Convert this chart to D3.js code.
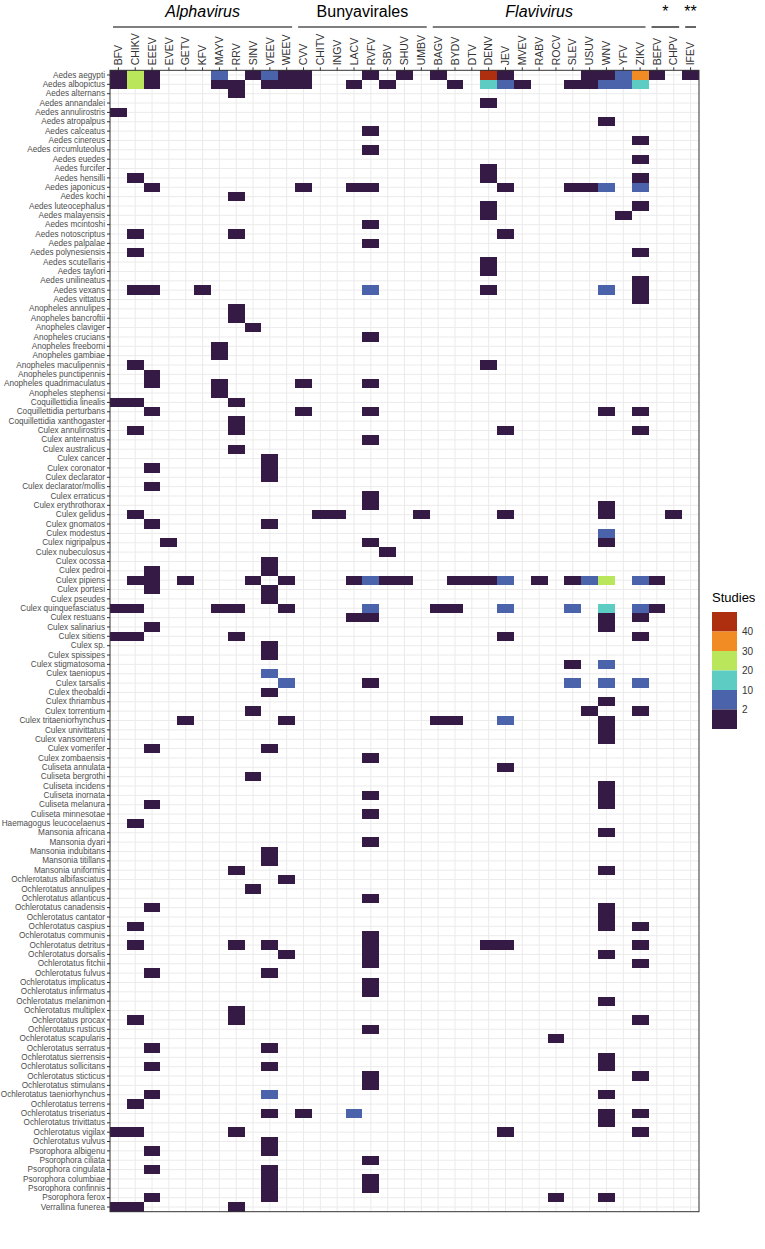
<!DOCTYPE html>
<html>
<head>
<meta charset="utf-8">
<script src="https://cdn.jsdelivr.net/npm/d3@7"></script>
<style>
  body { margin: 0; background: #fff; }
  text { font-family: "Liberation Sans", Arial, sans-serif; }
</style>
</head>
<body>
<svg id="chart" width="765" height="1249"></svg>
<script>
// virus columns, left to right
const viruses = ['BFV','CHIKV','EEEV','EVEV','GETV','KFV','MAYV','RRV','SINV','VEEV','WEEV',
  'CVV','CHITV','INGV','LACV','RVFV','SBV','SHUV','UMBV',
  'BAGV','BYDV','DTV','DENV','JEV','MVEV','RABV','ROCV','SLEV','USUV','WNV','YFV','ZIKV',
  'BEFV','CHPV','IFEV'];

// header groups
const groupNames = ['Alphavirus', 'Bunyavirales', 'Flavivirus', '*', '**'];
const groupSpans = [['BFV','WEEV'], ['CVV','UMBV'], ['BAGV','ZIKV'], ['BEFV','CHPV'], ['IFEV','IFEV']];
const groupItalic = [true, false, true, false, false];

// legend bins
const legendBreaks = [2, 10, 20, 30, 40];
const legendColors = ['#341a45', '#4b63aa', '#5dcdc3', '#b9e65b', '#f08c23', '#ae2f0f'];

// number of studies per species / virus (estimated from the bins)
const studies = [
  ['Aedes aegypti', [['BFV',1],['CHIKV',22],['EEEV',1],['MAYV',6],['SINV',1],['VEEV',6],['WEEV',1],['CVV',1],['RVFV',1],['SHUV',1],['BAGV',1],['DENV',45],['JEV',1],['USUV',1],['WNV',1],['YFV',6],['ZIKV',33],['BEFV',1],['IFEV',1]]],
  ['Aedes albopictus', [['BFV',1],['CHIKV',22],['EEEV',1],['MAYV',1],['RRV',1],['VEEV',1],['WEEV',1],['CVV',1],['LACV',1],['SBV',1],['BYDV',1],['DENV',15],['JEV',6],['MVEV',1],['SLEV',1],['USUV',1],['WNV',6],['YFV',6],['ZIKV',15]]],
  ['Aedes alternans', [['RRV',1]]],
  ['Aedes annandalei', [['DENV',1]]],
  ['Aedes annulirostris', [['BFV',1]]],
  ['Aedes atropalpus', [['WNV',1]]],
  ['Aedes calceatus', [['RVFV',1]]],
  ['Aedes cinereus', [['ZIKV',1]]],
  ['Aedes circumluteolus', [['RVFV',1]]],
  ['Aedes euedes', [['ZIKV',1]]],
  ['Aedes furcifer', [['DENV',1]]],
  ['Aedes hensilli', [['CHIKV',1],['DENV',1],['ZIKV',1]]],
  ['Aedes japonicus', [['EEEV',1],['CVV',1],['LACV',1],['RVFV',1],['JEV',1],['SLEV',1],['USUV',1],['WNV',6],['ZIKV',6]]],
  ['Aedes kochi', [['RRV',1]]],
  ['Aedes luteocephalus', [['DENV',1],['ZIKV',1]]],
  ['Aedes malayensis', [['DENV',1],['YFV',1]]],
  ['Aedes mcintoshi', [['RVFV',1]]],
  ['Aedes notoscriptus', [['CHIKV',1],['RRV',1],['JEV',1]]],
  ['Aedes palpalae', [['RVFV',1]]],
  ['Aedes polynesiensis', [['CHIKV',1],['ZIKV',1]]],
  ['Aedes scutellaris', [['DENV',1]]],
  ['Aedes taylori', [['DENV',1]]],
  ['Aedes unilineatus', [['ZIKV',1]]],
  ['Aedes vexans', [['CHIKV',1],['EEEV',1],['KFV',1],['RVFV',6],['DENV',1],['WNV',6],['ZIKV',1]]],
  ['Aedes vittatus', [['ZIKV',1]]],
  ['Anopheles annulipes', [['RRV',1]]],
  ['Anopheles bancroftii', [['RRV',1]]],
  ['Anopheles claviger', [['SINV',1]]],
  ['Anopheles crucians', [['RVFV',1]]],
  ['Anopheles freeborni', [['MAYV',1]]],
  ['Anopheles gambiae', [['MAYV',1]]],
  ['Anopheles maculipennis', [['CHIKV',1],['DENV',1]]],
  ['Anopheles punctipennis', [['EEEV',1]]],
  ['Anopheles quadrimaculatus', [['EEEV',1],['MAYV',1],['CVV',1],['RVFV',1]]],
  ['Anopheles stephensi', [['MAYV',1]]],
  ['Coquillettidia linealis', [['BFV',1],['CHIKV',1],['RRV',1]]],
  ['Coquillettidia perturbans', [['EEEV',1],['CVV',1],['RVFV',1],['WNV',1],['ZIKV',1]]],
  ['Coquillettidia xanthogaster', [['RRV',1]]],
  ['Culex annulirostris', [['CHIKV',1],['RRV',1],['JEV',1],['ZIKV',1]]],
  ['Culex antennatus', [['RVFV',1]]],
  ['Culex australicus', [['RRV',1]]],
  ['Culex cancer', [['VEEV',1]]],
  ['Culex coronator', [['EEEV',1],['VEEV',1]]],
  ['Culex declarator', [['VEEV',1]]],
  ['Culex declarator/mollis', [['EEEV',1]]],
  ['Culex erraticus', [['RVFV',1]]],
  ['Culex erythrothorax', [['RVFV',1],['WNV',1]]],
  ['Culex gelidus', [['CHIKV',1],['CHITV',1],['INGV',1],['UMBV',1],['JEV',1],['WNV',1],['CHPV',1]]],
  ['Culex gnomatos', [['EEEV',1],['VEEV',1]]],
  ['Culex modestus', [['WNV',6]]],
  ['Culex nigripalpus', [['EVEV',1],['RVFV',1],['WNV',1]]],
  ['Culex nubeculosus', [['SBV',1]]],
  ['Culex ocossa', [['VEEV',1]]],
  ['Culex pedroi', [['EEEV',1],['VEEV',1]]],
  ['Culex pipiens', [['CHIKV',1],['EEEV',1],['GETV',1],['SINV',1],['WEEV',1],['LACV',1],['RVFV',6],['SBV',1],['SHUV',1],['BYDV',1],['DTV',1],['DENV',1],['JEV',6],['RABV',1],['SLEV',1],['USUV',6],['WNV',22],['ZIKV',6],['BEFV',1]]],
  ['Culex portesi', [['EEEV',1],['VEEV',1]]],
  ['Culex pseudes', [['VEEV',1]]],
  ['Culex quinquefasciatus', [['BFV',1],['CHIKV',1],['MAYV',1],['RRV',1],['WEEV',1],['RVFV',6],['BAGV',1],['BYDV',1],['JEV',6],['SLEV',6],['WNV',12],['ZIKV',6],['BEFV',1]]],
  ['Culex restuans', [['LACV',1],['RVFV',1],['WNV',1],['ZIKV',1]]],
  ['Culex salinarius', [['EEEV',1],['WNV',1]]],
  ['Culex sitiens', [['BFV',1],['CHIKV',1],['RRV',1],['JEV',1],['ZIKV',1]]],
  ['Culex sp.', [['VEEV',1]]],
  ['Culex spissipes', [['VEEV',1]]],
  ['Culex stigmatosoma', [['SLEV',1],['WNV',6]]],
  ['Culex taeniopus', [['VEEV',6]]],
  ['Culex tarsalis', [['WEEV',6],['RVFV',1],['SLEV',6],['WNV',6],['ZIKV',6]]],
  ['Culex theobaldi', [['VEEV',1]]],
  ['Culex thriambus', [['WNV',1]]],
  ['Culex torrentium', [['SINV',1],['USUV',1],['ZIKV',1]]],
  ['Culex tritaeniorhynchus', [['GETV',1],['WEEV',1],['BAGV',1],['BYDV',1],['JEV',6],['WNV',1]]],
  ['Culex univittatus', [['WNV',1]]],
  ['Culex vansomereni', [['WNV',1]]],
  ['Culex vomerifer', [['EEEV',1],['VEEV',1]]],
  ['Culex zombaensis', [['RVFV',1]]],
  ['Culiseta annulata', [['JEV',1]]],
  ['Culiseta bergrothi', [['SINV',1]]],
  ['Culiseta incidens', [['WNV',1]]],
  ['Culiseta inornata', [['RVFV',1],['WNV',1]]],
  ['Culiseta melanura', [['EEEV',1],['WNV',1]]],
  ['Culiseta minnesotae', [['RVFV',1]]],
  ['Haemagogus leucocelaenus', [['CHIKV',1]]],
  ['Mansonia africana', [['WNV',1]]],
  ['Mansonia dyari', [['RVFV',1]]],
  ['Mansonia indubitans', [['VEEV',1]]],
  ['Mansonia titillans', [['VEEV',1]]],
  ['Mansonia uniformis', [['RRV',1],['WNV',1]]],
  ['Ochlerotatus albifasciatus', [['WEEV',1]]],
  ['Ochlerotatus annulipes', [['SINV',1]]],
  ['Ochlerotatus atlanticus', [['RVFV',1]]],
  ['Ochlerotatus canadensis', [['EEEV',1],['WNV',1]]],
  ['Ochlerotatus cantator', [['WNV',1]]],
  ['Ochlerotatus caspius', [['CHIKV',1],['WNV',1],['ZIKV',1]]],
  ['Ochlerotatus communis', [['RVFV',1]]],
  ['Ochlerotatus detritus', [['CHIKV',1],['RRV',1],['VEEV',1],['RVFV',1],['DENV',1],['JEV',1],['ZIKV',1]]],
  ['Ochlerotatus dorsalis', [['WEEV',1],['RVFV',1],['WNV',1]]],
  ['Ochlerotatus fitchii', [['RVFV',1],['ZIKV',1]]],
  ['Ochlerotatus fulvus', [['EEEV',1],['VEEV',1]]],
  ['Ochlerotatus implicatus', [['RVFV',1]]],
  ['Ochlerotatus infirmatus', [['RVFV',1]]],
  ['Ochlerotatus melanimon', [['WNV',1]]],
  ['Ochlerotatus multiplex', [['RRV',1]]],
  ['Ochlerotatus procax', [['CHIKV',1],['RRV',1],['ZIKV',1]]],
  ['Ochlerotatus rusticus', [['RVFV',1]]],
  ['Ochlerotatus scapularis', [['ROCV',1]]],
  ['Ochlerotatus serratus', [['EEEV',1],['VEEV',1]]],
  ['Ochlerotatus sierrensis', [['WNV',1]]],
  ['Ochlerotatus sollicitans', [['EEEV',1],['VEEV',1],['WNV',1]]],
  ['Ochlerotatus sticticus', [['RVFV',1],['ZIKV',1]]],
  ['Ochlerotatus stimulans', [['RVFV',1]]],
  ['Ochlerotatus taeniorhynchus', [['EEEV',1],['VEEV',6],['WNV',1]]],
  ['Ochlerotatus terrens', [['CHIKV',1]]],
  ['Ochlerotatus triseriatus', [['VEEV',1],['CVV',1],['LACV',6],['WNV',1],['ZIKV',1]]],
  ['Ochlerotatus trivittatus', [['WNV',1]]],
  ['Ochlerotatus vigilax', [['BFV',1],['CHIKV',1],['RRV',1],['JEV',1],['ZIKV',1]]],
  ['Ochlerotatus vulvus', [['VEEV',1]]],
  ['Psorophora albigenu', [['EEEV',1],['VEEV',1]]],
  ['Psorophora ciliata', [['RVFV',1]]],
  ['Psorophora cingulata', [['EEEV',1],['VEEV',1]]],
  ['Psorophora columbiae', [['VEEV',1],['RVFV',1]]],
  ['Psorophora confinnis', [['VEEV',1],['RVFV',1]]],
  ['Psorophora ferox', [['EEEV',1],['VEEV',1],['ROCV',1],['WNV',1]]],
  ['Verrallina funerea', [['BFV',1],['CHIKV',1],['RRV',1]]]
];

const species = studies.map(d => d[0]);
const cells = [];
studies.forEach(s => s[1].forEach(v => cells.push({ species: s[0], virus: v[0], n: v[1] })));

const svg = d3.select('#chart');
const panel = { left: 110, right: 699, top: 70.3, bottom: 1211.7 };

const x = d3.scaleBand().domain(viruses).range([panel.left, panel.right]);
const y = d3.scaleBand().domain(species).range([panel.top, panel.bottom]);
const color = d3.scaleThreshold().domain(legendBreaks).range(legendColors);

// grid
const grid = svg.append('g').attr('stroke', '#ebebeb').attr('stroke-width', 1);
grid.selectAll('line.v')
  .data(viruses)
  .join('line')
    .attr('x1', d => x(d) + x.bandwidth() / 2)
    .attr('x2', d => x(d) + x.bandwidth() / 2)
    .attr('y1', panel.top)
    .attr('y2', panel.bottom);
grid.selectAll('line.h')
  .data(species)
  .join('line')
    .attr('x1', panel.left)
    .attr('x2', panel.right)
    .attr('y1', d => y(d) + y.bandwidth() / 2)
    .attr('y2', d => y(d) + y.bandwidth() / 2);

// tiles
svg.append('g')
  .selectAll('rect')
  .data(cells)
  .join('rect')
    .attr('x', d => x(d.virus))
    .attr('y', d => y(d.species))
    .attr('width', x.bandwidth())
    .attr('height', y.bandwidth())
    .attr('fill', d => color(d.n))
    .attr('shape-rendering', 'crispEdges');

// panel border
svg.append('rect')
  .attr('x', panel.left)
  .attr('y', panel.top)
  .attr('width', panel.right - panel.left)
  .attr('height', panel.bottom - panel.top)
  .attr('fill', 'none')
  .attr('stroke', '#333')
  .attr('stroke-width', 1);

// top axis
const xAxis = svg.append('g')
    .attr('transform', 'translate(0,' + panel.top + ')')
    .call(d3.axisTop(x).tickSize(3));
xAxis.select('.domain').remove();
xAxis.selectAll('line').attr('stroke', '#333');
xAxis.selectAll('text')
    .attr('transform', 'rotate(-90)')
    .attr('x', 5)
    .attr('y', 0)
    .attr('dy', '0.35em')
    .attr('text-anchor', 'start')
    .attr('fill', '#333')
    .style('font-size', '10.5px');

// left axis
const yAxis = svg.append('g')
    .attr('transform', 'translate(' + panel.left + ',0)')
    .call(d3.axisLeft(y).tickSize(3).tickPadding(2));
yAxis.select('.domain').remove();
yAxis.selectAll('line').attr('stroke', '#333');
yAxis.selectAll('text')
    .attr('fill', '#4d4d4d')
    .style('font-size', '8.2px');

// header groups
groupNames.forEach((name, i) => {
  const x0 = x(groupSpans[i][0]);
  const x1 = x(groupSpans[i][1]) + x.bandwidth();
  svg.append('line')
    .attr('x1', x0 + 3).attr('x2', x1 - 3)
    .attr('y1', 27).attr('y2', 27)
    .attr('stroke', '#000')
    .attr('stroke-width', 1.2);
  svg.append('text')
    .attr('x', (x0 + x1) / 2)
    .attr('y', 17)
    .attr('text-anchor', 'middle')
    .style('font-size', '16px')
    .style('font-style', groupItalic[i] ? 'italic' : 'normal')
    .text(name);
});

// legend
const legend = svg.append('g').attr('transform', 'translate(712,612)');
const keyH = 19.5;
legend.append('text')
  .attr('x', 0).attr('y', -10)
  .style('font-size', '13px')
  .text('Studies');
legend.selectAll('rect')
  .data(legendColors.slice().reverse())
  .join('rect')
    .attr('x', 0)
    .attr('y', (d, i) => i * keyH)
    .attr('width', 25)
    .attr('height', keyH)
    .attr('fill', d => d);
legend.selectAll('text.lab')
  .data(legendBreaks.slice().reverse())
  .join('text')
    .attr('class', 'lab')
    .attr('x', 30)
    .attr('y', (d, i) => (i + 1) * keyH)
    .attr('dy', '0.35em')
    .attr('fill', '#333')
    .style('font-size', '10px')
    .text(d => d);
</script>
</body>
</html>
